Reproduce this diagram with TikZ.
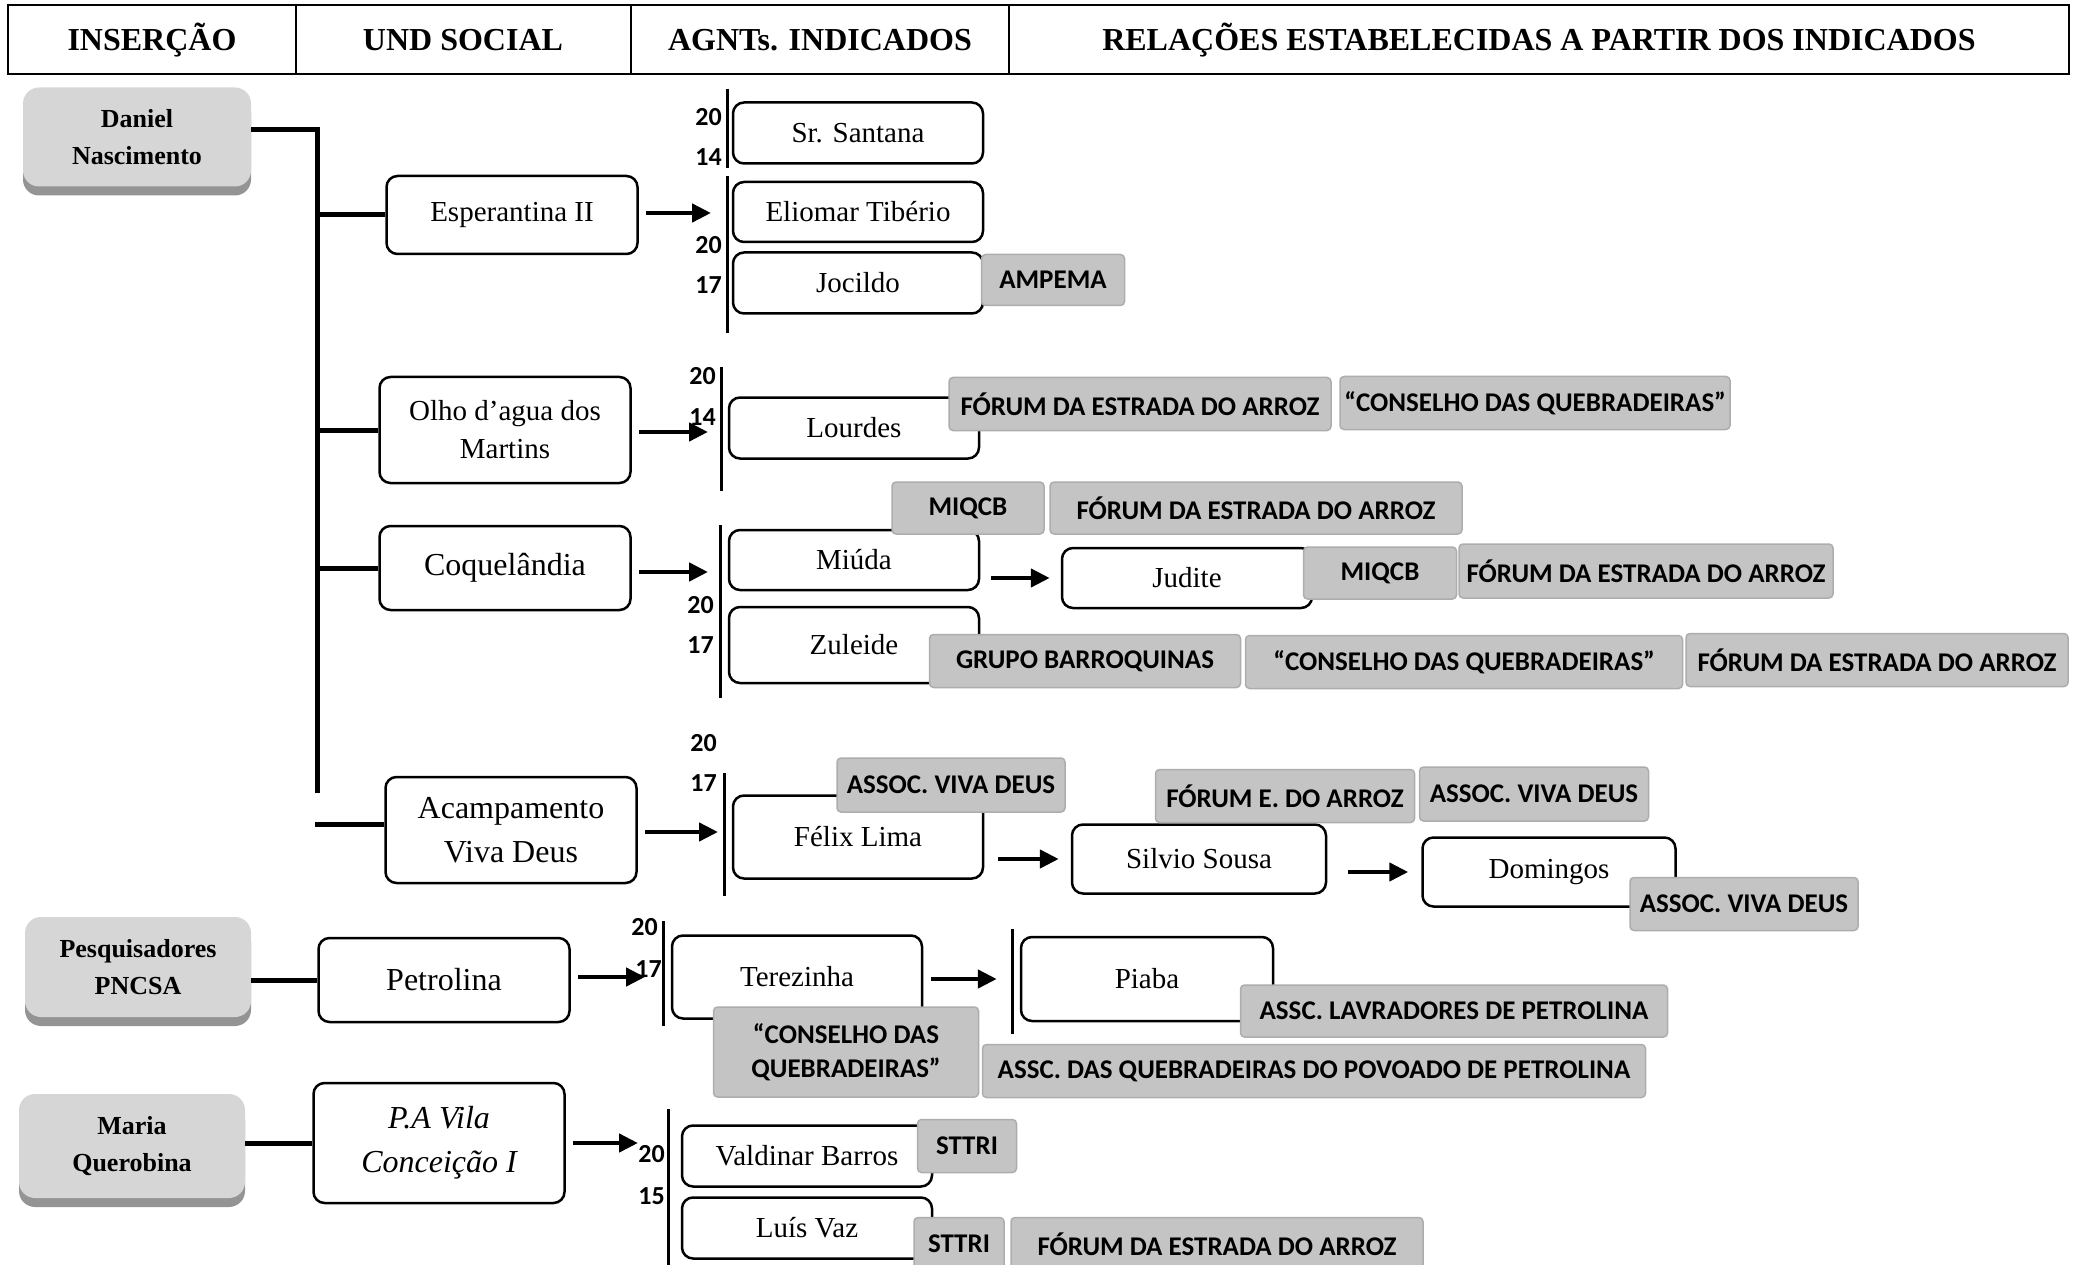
\documentclass[tikz,border=0pt]{standalone}
\usepackage{fontspec}
\setmainfont{Liberation Serif}
\newfontfamily\orgfont{Carlito}
\usepackage{tikz}
\usetikzlibrary{arrows.meta,shadows}
\tikzset{insercao/.style = {fill = black!16, rounded corners = 16pt, align = center,
    drop shadow = {shadow xshift = 0pt, shadow yshift = -9pt, fill = black!42, opacity = 1},
    font = \fontsize{26}{37}\selectfont\bfseries}}
\tikzset{unit/.style = {draw, fill = white, rounded corners = 11pt, line width = 2.5pt,
    minimum width = 251pt, align = center, font = \fontsize{32}{44}\selectfont}}
\tikzset{agent/.style = {draw, fill = white, rounded corners = 11pt, line width = 2.5pt,
    minimum width = 250pt, minimum height = 61pt, font = \fontsize{29}{38}\selectfont}}
\tikzset{org/.style = {draw = black!32, fill = black!23, rounded corners = 4pt, line width = 1.5pt,
    inner sep = 0pt, align = center, font = \orgfont\bfseries\fontsize{27}{34}\selectfont}}
\tikzset{year/.style = {anchor = east, inner sep = 0pt, font = \orgfont\bfseries\fontsize{26}{26}\selectfont}}
\tikzset{header/.style = {font = \fontsize{32}{38}\selectfont\bfseries}}
\tikzset{edge/.style = {->, > = {Triangle[length = 19pt, width = 18pt]}, line width = 4.5pt, shorten <= 7pt}}
\tikzset{trunk/.style = {line width = 5pt}}
\tikzset{bar/.style = {line width = 3pt}}

\begin{document}
\begin{tikzpicture}[x = 1pt, y = -1pt]
			\useasboundingbox (0, 0) rectangle (2073, 1265);

			% header
			\draw[line width = 2.5pt] (8, 5) rectangle (2069, 74);
			\draw[line width = 2.5pt] (296, 5) -- (296, 74);
			\draw[line width = 2.5pt] (631, 5) -- (631, 74);
			\draw[line width = 2.5pt] (1009, 5) -- (1009, 74);
			\node[header] (h1) at (152, 40) {INSERÇÃO};
			\node[header] (h2) at (463, 40) {UND SOCIAL};
			\node[header] (h3) at (820, 40) {AGNTs. INDICADOS};
			\node[header] (h4) at (1539, 40) {RELAÇÕES ESTABELECIDAS A PARTIR DOS INDICADOS};

			\node[insercao, minimum width = 228pt, minimum height = 99pt] (daniel) at (137, 137) {Daniel\\Nascimento};
			\node[insercao, minimum width = 226pt, minimum height = 100pt] (pesq) at (138, 967) {Pesquisadores\\PNCSA};
			\node[insercao, minimum width = 226pt, minimum height = 104pt] (maria) at (132, 1146) {Maria\\Querobina};

			\node[unit, minimum height = 78pt, font = \fontsize{29}{38}\selectfont] (esp) at (512, 215) {Esperantina II};
			\node[unit, minimum height = 106pt, font = \fontsize{29}{38}\selectfont] (olho) at (505, 430) {Olho d’agua dos\\Martins};
			\node[unit, minimum height = 84pt] (coq) at (505, 568) {Coquelândia};
			\node[unit, minimum height = 106pt] (acamp) at (511, 830) {Acampamento\\Viva Deus};
			\node[unit, minimum height = 84pt] (petrolina) at (444, 980) {Petrolina};
			\node[unit, minimum height = 120pt, font = \fontsize{32}{44}\selectfont\itshape] (pavila) at (439, 1143) {P.A Vila\\Conceição I};

			\coordinate (trunkend) at (317, 793);
			\coordinate (acampend) at (315, 824);
			\draw[trunk] ([yshift = 7pt]daniel.east) -| (trunkend);
			\draw[trunk] (esp.west) -- (esp.west -| trunkend);
			\draw[trunk] (olho.west) -- (olho.west -| trunkend);
			\draw[trunk] (coq.west) -- (coq.west -| trunkend);
			\draw[trunk] (acamp.west |- acampend) -- (acampend);
			\draw[trunk] (pesq.east |- petrolina) -- (petrolina.west);
			\draw[trunk] (maria.east |- pavila) -- (pavila.west);

			\node[agent] (santana) at (858, 133) {Sr. Santana};
			\node[agent, minimum height = 60pt] (eliomar) at (858, 212) {Eliomar Tibério};
			\node[agent] (jocildo) at (858, 283) {Jocildo};
			\node[agent] (lourdes) at (854, 428) {Lourdes};
			\node[agent, minimum height = 60pt] (miuda) at (854, 560) {Miúda};
			\node[agent, minimum height = 76pt] (zuleide) at (854, 645) {Zuleide};
			\node[agent, minimum height = 60pt] (judite) at (1187, 578) {Judite};
			\node[agent, minimum height = 83pt] (felix) at (858, 837) {Félix Lima};
			\node[agent, minimum width = 254pt, minimum height = 69pt] (silvio) at (1199, 859) {Silvio Sousa};
			\node[agent, minimum width = 253pt, minimum height = 69pt] (domingos) at (1549, 872) {Domingos};
			\node[agent, minimum height = 83pt] (terezinha) at (797, 977) {Terezinha};
			\node[agent, minimum width = 252pt, minimum height = 84pt] (piaba) at (1147, 979) {Piaba};
			\node[agent] (valdinar) at (807, 1156) {Valdinar Barros};
			\node[agent] (luis) at (807, 1228) {Luís Vaz};

			% year bars
			\draw[bar] (727, 89) -- (727, 168);
			\draw[bar] (727, 176) -- (727, 333);
			\draw[bar] (721, 367) -- (721, 491);
			\draw[bar] (720, 525) -- (720, 698);
			\draw[bar] (724, 773) -- (724, 896);
			\draw[bar] (663, 921) -- (663, 1026);
			\draw[bar] (1012, 929) -- (1012, 1034);
			\draw[bar] (668, 1109) -- (668, 1268);

			\coordinate (tip1) at (711, 213);
			\coordinate (tip2) at (708, 432);
			\coordinate (tip3) at (708, 572);
			\coordinate (tip4) at (718, 832);
			\coordinate (tip5) at (645, 977);
			\coordinate (tip6) at (638, 1143);
			\draw[edge] (esp.east |- tip1) -- (tip1);
			\draw[edge] (olho.east |- tip2) -- (tip2);
			\draw[edge] (coq.east |- tip3) -- (tip3);
			\draw[edge] (acamp.east |- tip4) -- (tip4);
			\draw[edge] (petrolina.east |- tip5) -- (tip5);
			\draw[edge] (pavila.east |- tip6) -- (tip6);
			\draw[edge, shorten <= 11pt, shorten >= 11pt] (miuda.east |- judite) -- (judite.west);
			\draw[edge, shorten <= 14pt, shorten >= 12pt] (felix.east |- silvio) -- (silvio.west);
			\draw[edge, shorten <= 21pt, shorten >= 13pt] (silvio.east |- domingos) -- (domingos.west);
			\draw[edge, shorten <= 8pt, shorten >= 23pt] (terezinha.east |- piaba) -- (piaba.west);

			\node[year] (y1a) at (722, 117) {20};
			\node[year] (y1b) at (722, 157) {14};
			\node[year] (y2a) at (722, 245) {20};
			\node[year] (y2b) at (722, 285) {17};
			\node[year] (y3a) at (716, 376) {20};
			\node[year] (y3b) at (716, 417) {14};
			\node[year] (y4a) at (714, 605) {20};
			\node[year] (y4b) at (714, 645) {17};
			\node[year] (y5a) at (717, 743) {20};
			\node[year] (y5b) at (717, 783) {17};
			\node[year] (y6a) at (658, 927) {20};
			\node[year] (y6b) at (662, 969) {17};
			\node[year] (y7a) at (665, 1154) {20};
			\node[year] (y7b) at (665, 1196) {15};

			% relações
			\node[org, minimum width = 143pt, minimum height = 51pt] (ampema) at (1053, 280) {AMPEMA};
			\node[org, minimum width = 382pt, minimum height = 53pt] (forum1) at (1140, 404) {FÓRUM DA ESTRADA DO ARROZ};
			\node[org, minimum width = 390pt, minimum height = 53pt] (conselho1) at (1535, 403) {“CONSELHO DAS QUEBRADEIRAS”};
			\node[org, minimum width = 152pt, minimum height = 52pt] (miqcb1) at (968, 508) {MIQCB};
			\node[org, minimum width = 412pt, minimum height = 52pt] (forum2) at (1256, 508) {FÓRUM DA ESTRADA DO ARROZ};
			\node[org, minimum width = 153pt, minimum height = 52pt] (miqcb2) at (1380, 573) {MIQCB};
			\node[org, minimum width = 374pt, minimum height = 54pt] (forum3) at (1646, 571) {FÓRUM DA ESTRADA DO ARROZ};
			\node[org, minimum width = 311pt, minimum height = 53pt] (grupo) at (1085, 661) {GRUPO BARROQUINAS};
			\node[org, minimum width = 437pt, minimum height = 53pt] (conselho2) at (1464, 662) {“CONSELHO DAS QUEBRADEIRAS”};
			\node[org, minimum width = 382pt, minimum height = 53pt] (forum4) at (1877, 660) {FÓRUM DA ESTRADA DO ARROZ};
			\node[org, minimum width = 228pt, minimum height = 54pt] (assoc1) at (951, 785) {ASSOC. VIVA DEUS};
			\node[org, minimum width = 259pt, minimum height = 53pt] (forume) at (1285, 796) {FÓRUM E. DO ARROZ};
			\node[org, minimum width = 229pt, minimum height = 54pt] (assoc2) at (1534, 794) {ASSOC. VIVA DEUS};
			\node[org, minimum width = 228pt, minimum height = 53pt] (assoc3) at (1744, 904) {ASSOC. VIVA DEUS};
			\node[org, minimum width = 265pt, minimum height = 90pt] (conselho3) at (846, 1052) {“CONSELHO DAS\\QUEBRADEIRAS”};
			\node[org, minimum width = 427pt, minimum height = 52pt] (lavradores) at (1454, 1011) {ASSC. LAVRADORES DE PETROLINA};
			\node[org, minimum width = 663pt, minimum height = 53pt] (povoado) at (1314, 1071) {ASSC. DAS QUEBRADEIRAS DO POVOADO DE PETROLINA};
			\node[org, minimum width = 99pt, minimum height = 53pt] (sttri1) at (967, 1146) {STTRI};
			\node[org, minimum width = 90pt, minimum height = 53pt] (sttri2) at (959, 1244) {STTRI};
			\node[org, minimum width = 412pt, minimum height = 53pt] (forum5) at (1217, 1244) {FÓRUM DA ESTRADA DO ARROZ};
		\end{tikzpicture}
\end{document}
